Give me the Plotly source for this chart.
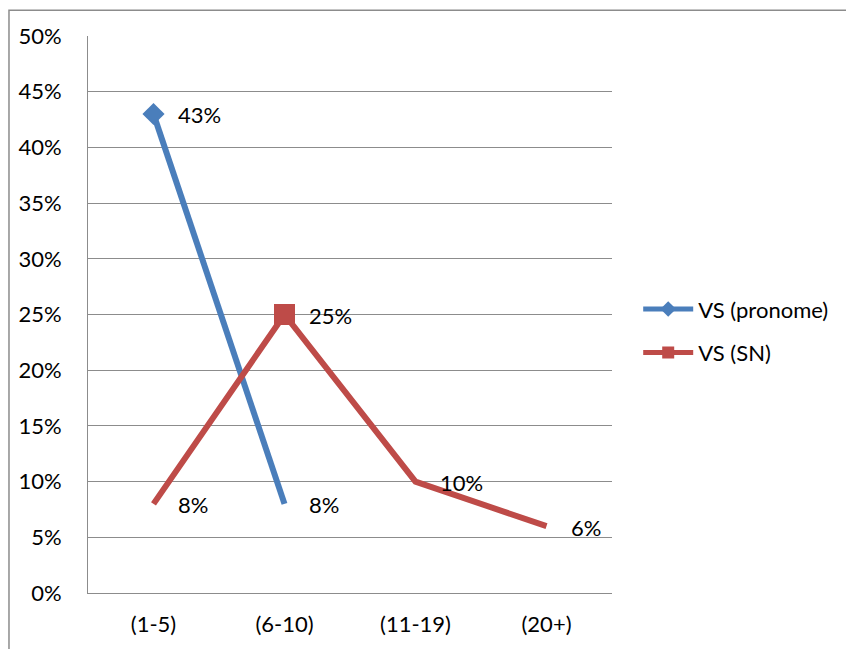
import plotly.graph_objects as go

# Categories and series values
categories = ["(1-5)", "(6-10)", "(11-19)", "(20+)"]
vs_pronome = [0.43, 0.08, None, None]
vs_sn = [0.08, 0.25, 0.10, 0.06]

# Marker shown only at the peak point of each series
pronome_marker_sizes = [17, 0, 0, 0]
sn_marker_sizes = [0, 21, 0, 0]

BLUE = "#4A7EBB"
RED = "#BE4B48"
GRID = "#8C8C8C"
FONT = "Lato"
FS = 22

fig = go.Figure()
fig.add_trace(go.Scatter(
    x=categories, y=vs_pronome, name="VS (pronome)", legendgroup="pronome",
    mode="lines+markers",
    line=dict(color=BLUE, width=6),
    marker=dict(symbol="diamond", size=pronome_marker_sizes, color=BLUE,
                opacity=1, line=dict(width=0)),
))
fig.add_trace(go.Scatter(
    x=categories, y=vs_sn, name="VS (SN)", legendgroup="sn",
    mode="lines+markers",
    line=dict(color=RED, width=6),
    marker=dict(symbol="square", size=sn_marker_sizes, color=RED,
                opacity=1, line=dict(width=0)),
))

# Value labels beside each point
for series in (vs_pronome, vs_sn):
    for cat, v in zip(categories, series):
        if v is None:
            continue
        fig.add_annotation(
            x=cat, y=v, text=f"{v * 100:.0f}%", showarrow=False,
            xanchor="left", yanchor="middle", xshift=22, yshift=-1,
            font=dict(family=FONT, size=FS, color="#000000"),
        )

# Outer chart border
fig.add_shape(
    type="rect", xref="paper", yref="paper",
    x0=-0.1508, x1=1.7, y0=-0.12, y1=1.0463,
    line=dict(color=GRID, width=1.5), fillcolor="rgba(0,0,0,0)", layer="below",
)

fig.update_layout(
    width=846, height=649,
    margin=dict(l=88, r=234, t=36, b=52),
    paper_bgcolor="white", plot_bgcolor="white",
    font=dict(family=FONT, size=FS, color="#000000"),
    showlegend=True,
    legend=dict(
        x=1.05, y=0.47, xanchor="left", yanchor="middle",
        itemsizing="constant", itemwidth=50, font=dict(family=FONT, size=FS),
        traceorder="grouped", tracegroupgap=12, bgcolor="rgba(0,0,0,0)",
    ),
    xaxis=dict(
        type="category", range=[-0.5, 3.5],
        showgrid=False, showline=True, linecolor=GRID, linewidth=1,
        ticks="", ticklabelstandoff=12, zeroline=False,
    ),
    yaxis=dict(
        range=[0, 0.5], dtick=0.05, tickformat=".0%",
        showgrid=True, gridcolor=GRID, gridwidth=1,
        showline=True, linecolor=GRID, linewidth=1,
        ticks="", ticklabelstandoff=21, zeroline=False,
    ),
)

fig.write_html("out.html")
